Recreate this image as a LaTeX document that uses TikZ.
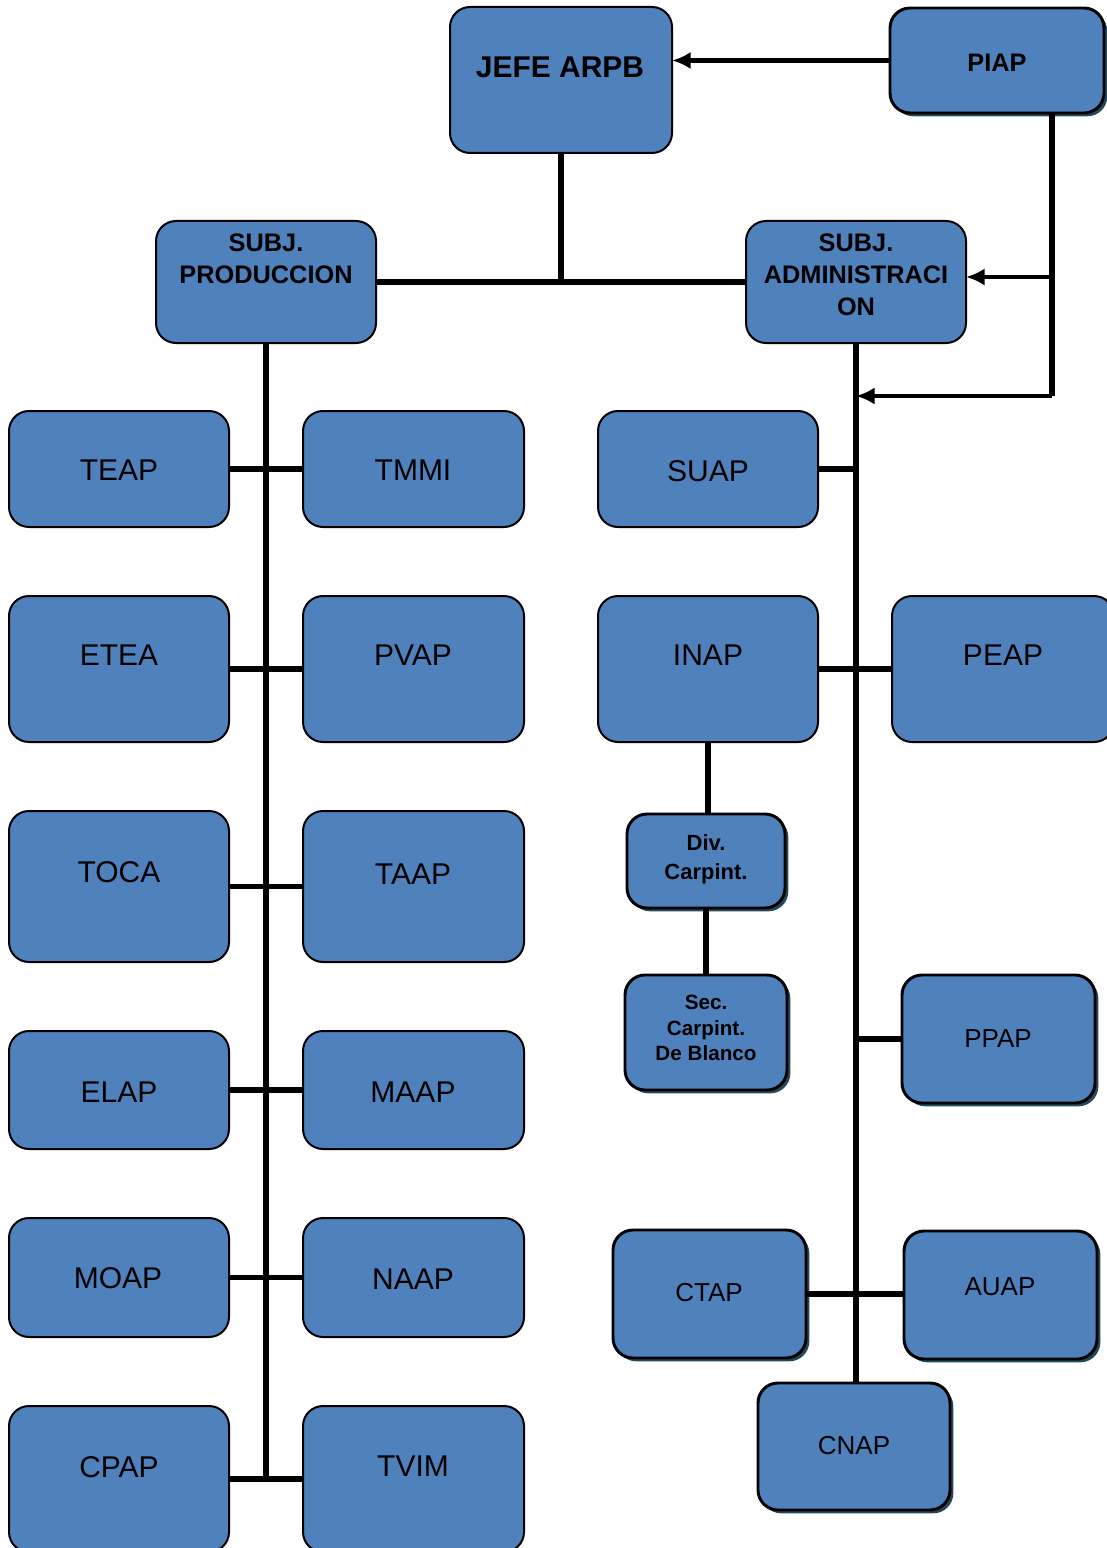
\documentclass[tikz,border=0pt]{standalone}
\usepackage{fontspec}
\setmainfont{Liberation Sans}
\usetikzlibrary{arrows.meta,shadows}
\definecolor{boxblue}{HTML}{4F81BD}
\definecolor{shadec}{HTML}{24495A}
\newcommand\mkbox[6]{%
  \pgfmathsetmacro\cx{(#2+#4)/2}\pgfmathsetmacro\cy{(#3+#5)/2}%
  \pgfmathsetmacro\ww{(#4-#2)*0.75}\pgfmathsetmacro\hh{(#5-#3)*0.75}%
  \node[#6, minimum width=\ww pt, minimum height=\hh pt] (#1) at (\cx,\cy) {};}
\newcommand\mktxt[5]{\node[lab,#4] (#1) at (#2,#3) {#5};}
\tikzset{
  box/.style={draw=black, line width=1.5pt, fill=boxblue, rounded corners=15pt, inner sep=0pt, outer sep=0pt},
  sbox/.style={box, line width=2.2pt, drop shadow={shadow xshift=2.5pt, shadow yshift=-2.5pt, fill=shadec, opacity=1}},
  conn/.style={line width=4pt},
  arr/.style={line width=3.6pt, -{Latex[length=14pt,width=13pt]}},
  lab/.style={anchor=north, inner sep=0pt, align=center, text=black},
  bigr/.style={font=\fontsize{22.5}{26}\selectfont},
  smr/.style={font=\fontsize{19.5}{23}\selectfont},
  jefef/.style={font=\bfseries\fontsize{22.5}{27}\selectfont},
  subf/.style={font=\bfseries\fontsize{19}{24}\selectfont},
  divf/.style={font=\bfseries\fontsize{16.5}{21.75}\selectfont},
  secf/.style={font=\bfseries\fontsize{15.5}{19}\selectfont},
}
\begin{document}
\begin{tikzpicture}[x=0.75pt,y=-0.75pt]
\useasboundingbox (0,0) rectangle (1106,1548);
% boxes
\mkbox{jefe}{450}{7}{672}{153}{box}
\mkbox{piap}{890}{8}{1104}{113}{sbox}
\mkbox{prod}{156}{221}{376}{343}{box}
\mkbox{adm}{746}{221}{966}{343}{box}
\mkbox{teap}{9}{411}{229}{527}{box}
\mkbox{tmmi}{303}{411}{524}{527}{box}
\mkbox{etea}{9}{596}{229}{742}{box}
\mkbox{pvap}{303}{596}{524}{742}{box}
\mkbox{toca}{9}{811}{229}{962}{box}
\mkbox{taap}{303}{811}{524}{962}{box}
\mkbox{elap}{9}{1031}{229}{1149}{box}
\mkbox{maap}{303}{1031}{524}{1149}{box}
\mkbox{moap}{9}{1218}{229}{1337}{box}
\mkbox{naap}{303}{1218}{524}{1337}{box}
\mkbox{cpap}{9}{1406}{229}{1552}{box}
\mkbox{tvim}{303}{1406}{524}{1552}{box}
\mkbox{suap}{598}{411}{818}{527}{box}
\mkbox{inap}{598}{596}{818}{742}{box}
\mkbox{peap}{892}{596}{1114}{742}{box}
\mkbox{div}{627}{814}{785}{908}{sbox}
\mkbox{sec}{625}{975}{787}{1090}{sbox}
\mkbox{ppap}{902}{975}{1095}{1103}{sbox}
\mkbox{ctap}{613}{1230}{806}{1358}{sbox}
\mkbox{auap}{904}{1231}{1097}{1359}{sbox}
\mkbox{cnap}{758}{1383}{950}{1510}{sbox}
% labels
\mktxt{tjefe}{560}{57}{jefef}{JEFE ARPB}
\mktxt{tpiap}{997}{54}{subf}{PIAP}
\mktxt{tprod}{266}{234}{subf}{SUBJ.\\PRODUCCION}
\mktxt{tadm}{856}{234}{subf}{SUBJ.\\ADMINISTRACI\\ON}
\mktxt{tteap}{119}{460}{bigr}{TEAP}
\mktxt{ttmmi}{413}{460}{bigr}{TMMI}
\mktxt{tetea}{119}{645}{bigr}{ETEA}
\mktxt{tpvap}{413}{645}{bigr}{PVAP}
\mktxt{ttoca}{119}{861}{bigr}{TOCA}
\mktxt{ttaap}{413}{864}{bigr}{TAAP}
\mktxt{telap}{119}{1082}{bigr}{ELAP}
\mktxt{tmaap}{413}{1082}{bigr}{MAAP}
\mktxt{tmoap}{118}{1267}{bigr}{MOAP}
\mktxt{tnaap}{413}{1269}{bigr}{NAAP}
\mktxt{tcpap}{119}{1456}{bigr}{CPAP}
\mktxt{ttvim}{413}{1456}{bigr}{TVIM}
\mktxt{tsuap}{708}{460}{bigr}{SUAP}
\mktxt{tinap}{708}{645}{bigr}{INAP}
\mktxt{tpeap}{1003}{645}{bigr}{PEAP}
\mktxt{tdiv}{706}{834}{divf}{Div.\\Carpint.}
\mktxt{tsec}{706}{995}{secf}{Sec.\\Carpint.\\De Blanco}
\mktxt{tppap}{998}{1029}{smr}{PPAP}
\mktxt{tctap}{709}{1283}{smr}{CTAP}
\mktxt{tauap}{1000}{1277}{smr}{AUAP}
\mktxt{tcnap}{854}{1436}{smr}{CNAP}
% connectors
\draw[arr] (piap.west) -- (piap.west -| jefe.east);
\draw[conn] (jefe.south) -- (jefe.south |- prod.east);
\draw[conn] (prod.east) -- (adm.west);
\coordinate (p1) at (1052,113);
\coordinate (p2) at (1052,396);
\coordinate (p3) at (1052,277);
\draw[conn] (p1) -- (p2);
\draw[arr] (p2) -- (p2 -| adm.south);
\draw[arr] (p3) -- (p3 -| adm.east);
\coordinate (lb) at (266,1480);
\draw[conn] (prod.south) -- (lb);
\draw[conn] (teap.east) -- (tmmi.west);
\draw[conn] (etea.east) -- (pvap.west);
\draw[conn] (toca.east) -- (taap.west);
\draw[conn] (elap.east) -- (maap.west);
\draw[conn] (moap.east) -- (naap.west);
\draw[conn] (cpap.east) -- (tvim.west);
\draw[conn] (adm.south) -- (adm.south |- cnap.north);
\draw[conn] (suap.east) -- (suap.east -| adm.south);
\draw[conn] (inap.east) -- (peap.west);
\draw[conn] (inap.south) -- (inap.south |- div.north);
\draw[conn] (div.south) -- (div.south |- sec.north);
\draw[conn] (ppap.west) -- (ppap.west -| adm.south);
\draw[conn] (ctap.east) -- (ctap.east -| auap.west);
\end{tikzpicture}
\end{document}
